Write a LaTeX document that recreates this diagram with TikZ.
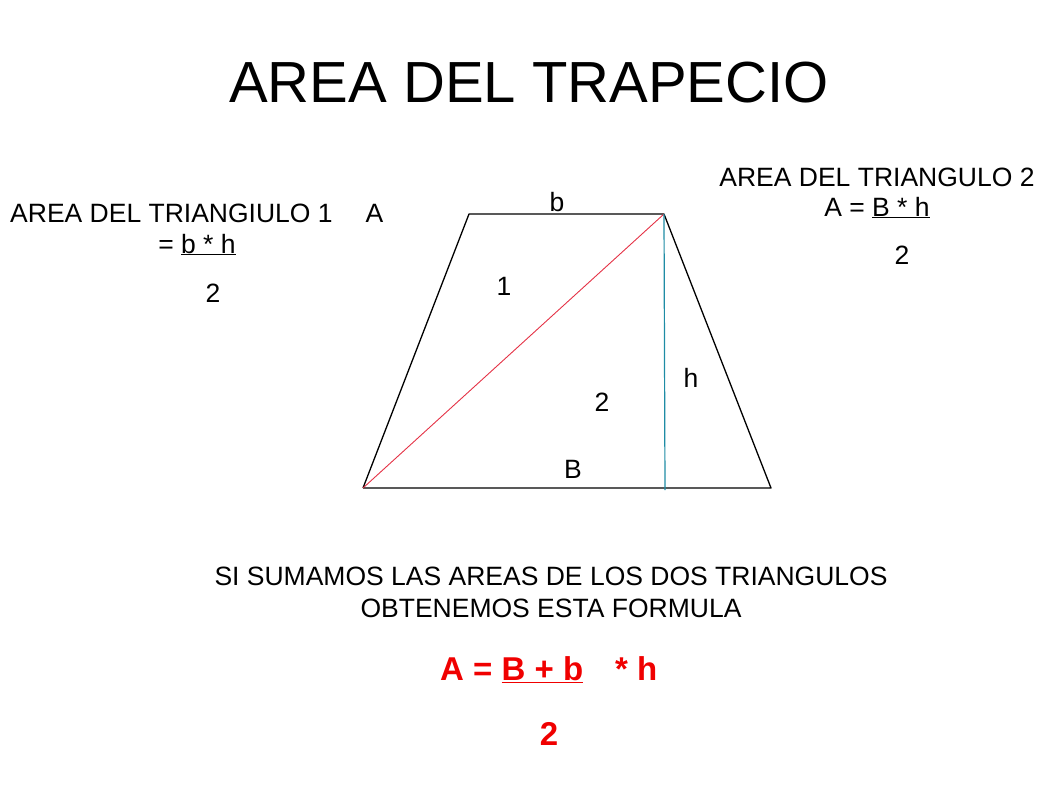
\documentclass[tikz,border=0pt]{standalone}
\usepackage{fontspec}
\setmainfont{Liberation Sans}
\usetikzlibrary{positioning}
\definecolor{diagred}{RGB}{228,50,70}
\definecolor{heightblue}{RGB}{30,140,165}
\definecolor{formred}{RGB}{240,0,0}

\begin{document}
\begin{tikzpicture}[x=1pt,y=-1pt]
      \useasboundingbox (0,0) rectangle (1058,793);
      \tikzstyle{txt}=[anchor=base,inner sep=0pt,font=\fontsize{26.5}{31}\selectfont]
      \tikzstyle{big}=[txt,text=formred,font=\fontsize{33}{38}\selectfont\bfseries]
      \tikzstyle{side}=[line width=1.3pt,line join=round]
      \node [txt,font=\fontsize{58}{66}\selectfont] (title) at (529,102) {AREA DEL TRAPECIO};
      \coordinate (tl) at (469,214);
      \coordinate (tr) at (664,214);
      \coordinate (br) at (771,488);
      \coordinate (bl) at (363,488);
      \coordinate (foot) at (665,490);
      \draw [side] (bl) -- (tl) -- (tr) -- (br) -- (bl);
      \draw [diagred,line width=0.9pt] (bl) -- (tr);
      \draw [heightblue,line width=1.2pt] (tr) -- (foot);
      \node [txt] (lb) at (557,211) {b};
      \node [txt] (lbig) at (573,478) {B};
      \node [txt] (lh) at (691,387) {h};
      \node [txt] (lone) at (504,295) {1};
      \node [txt] (ltwo) at (602,411) {2};
      \node [txt,anchor=base west] (tri1) at (10,222) {AREA DEL TRIANGIULO 1\hspace{33pt}A};
      \node [txt] (tri1f) at (197,253) {= \underline{b * h}};
      \node [txt] (tri1d) at (213,302) {2};
      \node [txt] (tri2) at (877,186) {AREA DEL TRIANGULO 2};
      \node [txt] (tri2f) at (877,216) {A = \underline{B * h}};
      \node [txt] (tri2d) at (902,264) {2};
      \node [txt] (sum1) at (551,585) {SI SUMAMOS LAS AREAS DE LOS DOS TRIANGULOS};
      \node [txt] (sum2) at (551,617) {OBTENEMOS ESTA FORMULA};
      \node [big,anchor=base west] (form) at (440,680) {A = \underline{B + b}\hspace{32pt}* h};
      \node [big] (formd) at (549,745) {2};
\end{tikzpicture}
\end{document}
